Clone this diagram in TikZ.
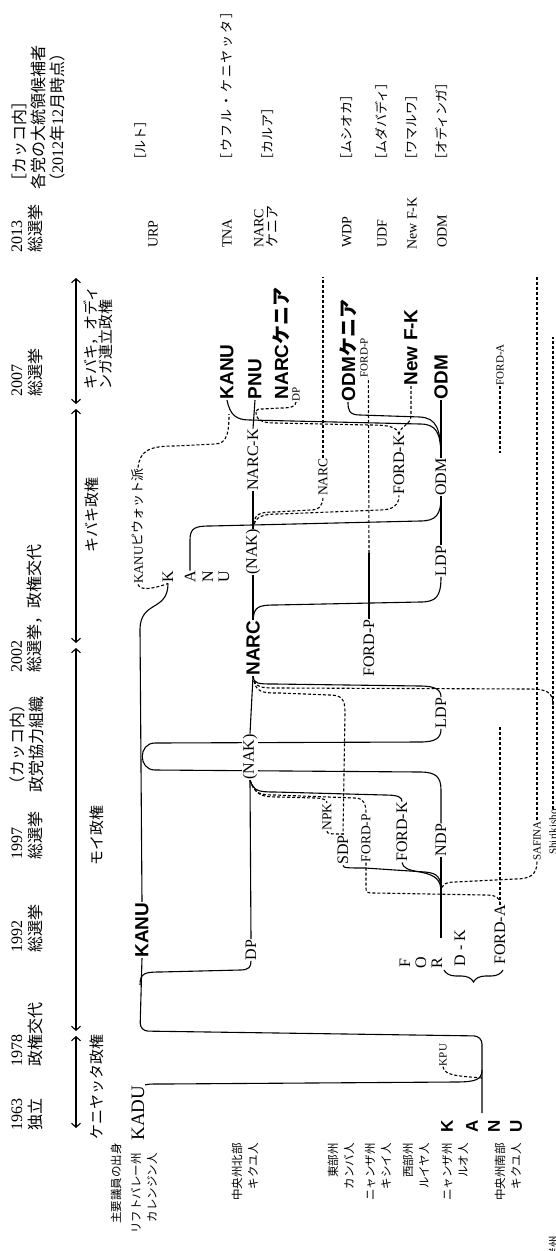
\documentclass[tikz,border=0pt]{standalone}
\usepackage{fontspec}
\setmainfont{Liberation Serif}
\newfontfamily\lsans{Liberation Sans}
\newfontfamily\jpf{Noto Sans CJK JP}
\newfontfamily\jpw{Noto Sans CJK JP}[LetterSpace=14]
\usetikzlibrary{arrows.meta,decorations.pathreplacing}
\pgfdeclarelayer{bg}
\pgfsetlayers{bg,main}
\tikzset{
  hd/.style={rotate=90,inner sep=0,font=\fontsize{16}{19}\selectfont,align=left},
  era/.style={rotate=90,inner sep=0,font=\jpf\fontsize{15}{13}\selectfont,align=left},
  big/.style={rotate=90,inner sep=0.5pt,font=\lsans\bfseries\fontsize{19}{20}\selectfont},
  lab/.style={rotate=90,inner sep=0.5pt,font=\fontsize{16}{17}\selectfont},
  md/.style={rotate=90,inner sep=0.5pt,font=\fontsize{13.5}{14}\selectfont},
  sm/.style={rotate=90,inner sep=0.5pt,font=\fontsize{11}{12}\selectfont},
  eth/.style={rotate=90,inner sep=0,font=\jpf\fontsize{11.5}{16}\selectfont,align=right,anchor=east},
  col/.style={rotate=90,inner sep=0,font=\fontsize{14}{14}\selectfont,anchor=west,align=left},
  cand/.style={rotate=90,inner sep=0,font=\jpf\fontsize{13}{14}\selectfont,anchor=west},
  ln/.style={line width=1.1pt},
  dl/.style={line width=1.1pt,dash pattern=on 3pt off 2pt},
  arr/.style={line width=1.1pt,{Straight Barb[length=4pt,width=9pt]}-{Straight Barb[length=4pt,width=9pt]}},
  wb/.style={fill=white}
}
\begin{document}
\begin{tikzpicture}[x=1pt,y=-1pt]
\useasboundingbox (0,0) rectangle (556,1251);
\clip (0,0) rectangle (556,1251);
% ---------- header ----------
\node[hd,align=center] (h63) at (27,1114) {1963\\{\jpf 独立}};
\node[hd,anchor=west] (h78) at (27,1067) {1978\\{\jpf 政権交代}};
\node[hd,anchor=west] (h92) at (27,953) {1992\\{\jpf 総選挙}};
\node[hd,anchor=west] (h97) at (27,860) {1997\\{\jpf 総選挙}};
\node[hd,anchor=west] (hnak) at (27,793) {{\jpf （カッコ内）}\\{\jpf 政党協力組織}};
\node[hd,anchor=west] (h02) at (27,673) {2002\\{\jpf 総選挙，政権交代}};
\node[hd,anchor=west] (h07) at (27,397) {2007\\{\jpf 総選挙}};
\node[hd,anchor=west] (h13) at (27,253) {2013\\{\jpf 総選挙}};
\node[hd,anchor=west] (hcand) at (38,190) {{\jpf ［カッコ内］}\\{\jpf 各党の大統領候補者}\\{\jpf （}2012{\jpf 年}12{\jpf 月時点）}};
% ---------- eras ----------
\draw[arr] (76,1128) -- (76,1036);
\draw[arr] (76,1031) -- (76,648);
\draw[arr] (76,643) -- (76,409);
\draw[arr] (76,404) -- (76,278);
\node[era] (ekenyatta) at (97,1087) {ケニヤッタ政権};
\node[era] (emoi) at (97,835) {モイ政権};
\node[era] (ekibaki) at (92,515) {キバキ政権};
\node[era,anchor=west] (ecoal) at (98,390) {キバキ，オディ\\ンガ連立政権};
% ---------- ethnic rows ----------
\node[eth] (e0) at (116,1143) {主要議員の出身};
\node[eth] (e1) at (144,1153) {リフトバレー州\\カレンジン人};
\node[eth] (e2) at (245,1143) {中央州北部\\キクユ人};
\node[eth] (e3) at (341,1143) {東部州\\カンバ人};
\node[eth] (e4) at (378,1143) {ニャンザ州\\キシイ人};
\node[eth] (e5) at (416,1143) {西部州\\ルイヤ人};
\node[eth] (e6) at (455,1143) {ニャンザ州\\ルオ人};
\node[eth] (e7) at (508,1143) {中央州南部\\キクユ人};
\node[eth] (e8) at (554,1236) {海岸州};
% ---------- 2013 column ----------
\node[col] (urp) at (153,248) {URP};
\node[col] (tna) at (227,248) {TNA};
\node[col] (narc13) at (266,248) {NARC\\{\jpf ケニア}};
\node[col] (wdp) at (347,248) {WDP};
\node[col] (udf) at (382,248) {UDF};
\node[col] (nfk13) at (412,250) {New F-K};
\node[col] (odm13) at (442,248) {ODM};
\node[cand] (c1) at (141,167) {［ルト］};
\node[cand,font=\jpw\fontsize{13}{14}\selectfont] (c2) at (227,167) {［ウフル・ケニヤッタ］};
\node[cand] (c3) at (268,167) {［カルア］};
\node[cand] (c4) at (347,167) {［ムシオカ］};
\node[cand] (c5) at (382,167) {［ムダバディ］};
\node[cand] (c6) at (412,167) {［ワマルワ］};
\node[cand] (c7) at (442,167) {［オディンガ］};
% ---------- party labels ----------
\node[lab,font=\fontsize{19}{20}\selectfont] (kadu) at (138,1113) {KADU};
\node[big,font=\lsans\bfseries\fontsize{17}{17}\selectfont] (kK) at (447,1126) {K};
\node[big,font=\lsans\bfseries\fontsize{17}{17}\selectfont] (kA) at (472,1126) {A};
\node[big,font=\lsans\bfseries\fontsize{17}{17}\selectfont] (kN) at (494,1126) {N};
\node[big,font=\lsans\bfseries\fontsize{17}{17}\selectfont] (kU) at (516,1126) {U};
\coordinate (kanu63) at (482,1113);
\node[sm] (kpu) at (443,1055) {KPU};
\node[big] (kanu92) at (142,930) {KANU};
\node[lab] (dp92) at (251,950) {DP};
\node[lab] (fF) at (405,963) {F};
\node[lab] (fO) at (421,963) {O};
\node[lab] (fR) at (437,963) {R};
\node[lab,anchor=west] (fDK) at (460,967) {D - K};
\coordinate (dkend) at (441,938);
\node[lab] (forda92) at (500,935) {FORD-A};
\node[lab,wb] (nak97) at (250,757) {(NAK)};
\node[md] (npk) at (327,817) {NPK};
\node[lab] (sdp) at (343,850) {SDP};
\node[md] (fordp97) at (366,838) {FORD-P};
\node[lab] (fordk97) at (402,832) {FORD-K};
\node[lab] (ndp) at (441,840) {NDP};
\node[sm] (safina) at (537,841) {SAFINA};
\node[sm] (shiri) at (553,832) {Shirikisho};
\node[lab] (ldp97) at (441,713) {LDP};
\node[big] (narc02) at (253,648) {NARC};
\node[lab] (fordp02) at (369,648) {FORD-P};
\node[lab] (ldp02) at (441,561) {LDP};
\node[lab] (nak05) at (253,552) {(NAK)};
\node[lab] (kK2) at (168,577) {K};
\node[lab] (kA2) at (190,577) {A};
\node[lab] (kN2) at (208,577) {N};
\node[lab] (kU2) at (224,577) {U};
\node[md,font=\fontsize{13}{14}\selectfont] (kanupiw) at (138,526) {KANU{\jpf ピウォット派}};
\node[lab] (narck) at (253,460) {NARC-K};
\node[md] (narcs) at (323,477) {NARC};
\node[lab] (fordk05) at (399,465) {FORD-K};
\node[lab] (odm05) at (441,477) {ODM};
\node[big,anchor=west] (kanu07) at (227,400) {KANU};
\node[big,anchor=west] (pnu) at (255,400) {PNU};
\node[big,anchor=west] (narck07) at (281,400) {NARC{\jpf\bfseries ケニア}};
\node[sm,anchor=west] (dp07) at (296,402) {DP};
\node[big,anchor=west] (odmk07) at (348,402) {ODM{\jpf\bfseries ケニア}};
\node[sm,anchor=west] (fordp07) at (364,378) {FORD-P};
\node[big,anchor=west] (newfk) at (411,386) {New F-K};
\node[big,anchor=west] (odm07) at (441,400) {ODM};
\node[sm,anchor=west] (forda07) at (500,386) {FORD-A};
% ---------- connectors ----------
% KADU -> KANU
\draw[ln] (kadu.south east) .. controls (148,1084) .. (165,1084) -- (455,1082) .. controls (475,1082) and (482,1080) .. (482,1070);
% KANU (1963-)
\draw[ln,rounded corners=8pt] (kanu63) -- (482,1036) -- (140,1031) -- (kanu92.west);
\draw[dl] (kpu.west) .. controls (444,1076) and (460,1076) .. (482,1078);
% KANU -> DP
\draw[ln] (140,985) .. controls (140,973) and (145,972) .. (160,972) -- (240,970) .. controls (249,970) and (251,967) .. (dp92.west);
\draw[ln] (dp92.east) -- (nak97.west);
% KANU -> KANU 2002
\draw[ln] (kanu92.east) -- (140,630) .. controls (140,600) and (168,612) .. (kK2.west);
% LDP - KANU loop - NDP (behind the (NAK) label)
\begin{pgfonlayer}{bg}
\draw[ln] (ldp97.west) .. controls (441,738) and (436,742) .. (420,742) -- (155,743) .. controls (138,743) and (138,770) .. (155,770) -- (420,772) .. controls (436,772) and (441,777) .. (441,790) -- (ndp.east);
\end{pgfonlayer}
% NAK -> NARC
\draw[ln] (nak97.east) -- (narc02.west);
\draw[ln] (narc02.west) .. controls (254,684) and (258,684) .. (275,684) -- (420,686) .. controls (436,686) and (441,690) .. (ldp97.east);
\draw[dl] (narc02.west) .. controls (255,688) and (260,688) .. (280,688) -- (530,689) .. controls (548,689) and (553,693) .. (553,705);
\draw[dl] (shiri.east) -- (553,337);
\draw[dl] (narc02.west) .. controls (255,693) and (262,693) .. (280,693) -- (330,695) .. controls (342,695) and (345,700) .. (345,712) -- (sdp.east);
\draw[dl] (npk.west) .. controls (327,834) and (330,834) .. (345,834);
% NAK 1997 sources
\draw[ln] (nak97.west) .. controls (254,791) and (258,792) .. (275,792) -- (385,795) .. controls (398,795) and (402,797) .. (fordk97.east);
\draw[dl] (nak97.west) .. controls (255,794) and (260,795) .. (275,795) -- (355,798) .. controls (363,798) and (366,803) .. (fordp97.east);
\draw[dl] (nak97.west) .. controls (256,796) and (262,797) .. (280,797) -- (315,798) .. controls (323,798) and (327,800) .. (npk.east);
% FORD-K (1992) split
\draw[ln] (sdp.west) .. controls (343,868) and (348,868) .. (365,868) -- (425,872) .. controls (438,873) and (441,878) .. (441,890);
\draw[ln] (fordk97.west) .. controls (403,868) and (408,870) .. (420,872) .. controls (436,875) and (441,880) .. (441,892);
\draw[ln] (ndp.west) -- (dkend);
\draw[dl] (fordp97.west) -- (366,886) .. controls (366,893) .. (375,893) -- (485,895) .. controls (497,895) and (500,898) .. (forda92.east);
\draw[dl] (forda92.east) -- (500,727);
\draw[dl] (safina.west) .. controls (537,875) and (530,879) .. (515,879) -- (455,882) .. controls (445,882) and (441,885) .. (441,892);
\draw[dl] (safina.east) -- (537,277);
\draw[line width=1.1pt,decorate,decoration={brace,amplitude=12pt}] (503,970) -- (444,970);
% NARC 2002
\draw[ln] (narc02.east) -- (nak05.west);
\draw[ln] (narc02.east) .. controls (254,607) and (258,605) .. (275,605) -- (420,602) .. controls (436,602) and (441,597) .. (ldp02.west);
\draw[ln] (ldp02.east) -- (odm05.west);
\draw[ln] (kA2.east) -- (190,540) .. controls (190,528) and (195,526) .. (210,526) -- (420,521) .. controls (436,521) and (441,515) .. (odm05.west);
\draw[ln] (fordp02.east) -- (369,553);
\draw[dl] (369,553) -- (fordp07.south west);
% NAK 2002-07
\draw[ln] (nak05.east) -- (narck.west);
\draw[dl] (nak05.east) .. controls (254,514) and (258,512) .. (275,512) -- (310,510) .. controls (320,510) and (323,505) .. (narcs.west);
\draw[dl] (nak05.east) .. controls (255,516) and (262,514) .. (280,514) -- (380,510) .. controls (393,510) and (399,505) .. (fordk05.west);
\draw[dl] (narcs.east) -- (323,277);
\draw[dl] (fordk05.east) .. controls (400,425) and (411,426) .. (411,415) -- (newfk.west);
\draw[dl] (fordk05.east) .. controls (397,427) and (390,425) .. (370,425) -- (275,423) .. controls (262,423) and (256,420) .. (256,412);
\draw[dl] (dp07.west) .. controls (296,407) and (290,408) .. (280,408) -- (262,409) .. controls (258,409) .. (256,411);
\draw[ln] (narck.east) -- (pnu.west);
\draw[ln] (odm05.east) -- (odm07.west);
\draw[ln] (odm05.east) .. controls (441,428) and (436,418) .. (420,417) -- (360,415) .. controls (349,415) and (348,410) .. (odmk07.west);
\draw[ln] (odm05.east) .. controls (441,432) and (436,424) .. (420,424) -- (250,420) .. controls (236,420) and (230,415) .. (kanu07.west);
% KANU Biwott faction
\draw[dl] (kanupiw.west) .. controls (140,590) and (150,590) .. (kK2.west);
\draw[dl] (kanupiw.east) .. controls (140,450) and (150,446) .. (175,446) -- (215,444) .. controls (228,444) and (229,430) .. (229,414);
\draw[dl] (forda07.west) -- (500,453);
\end{tikzpicture}
\end{document}
